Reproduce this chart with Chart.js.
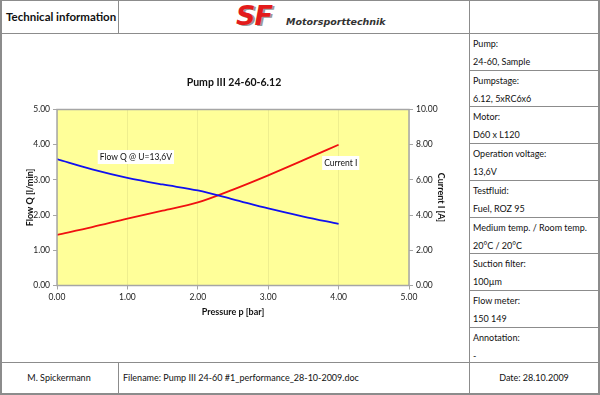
<!DOCTYPE html>
<html>
<head>
<meta charset="utf-8">
<script src="https://cdn.jsdelivr.net/npm/chart.js@4.4.1/dist/chart.umd.min.js"></script>
<style>
  html, body { margin:0; padding:0; background:#fff; }
  body { width:600px; height:395px; position:relative; overflow:hidden; font-family: Lato, "Open Sans", sans-serif; color:#111; }
  .ln { position:absolute; background:#8c8c8c; }
  .txt { position:absolute; font-size:9px; white-space:nowrap; line-height:12px; }
  #chartBox { position:absolute; left:0; top:34px; width:468px; height:327px; }
</style>
</head>
<body>
<!-- outer frame -->
<div class="ln" style="left:0;top:0;width:600px;height:1px;"></div>
<div class="ln" style="left:0;top:393px;width:600px;height:2px;"></div>
<div class="ln" style="left:0;top:0;width:2px;height:395px;"></div>
<div class="ln" style="left:598px;top:0;width:2px;height:395px;"></div>
<!-- header / footer lines -->
<div class="ln" style="left:0;top:33px;width:600px;height:1px;"></div>
<div class="ln" style="left:0;top:362px;width:600px;height:1px;"></div>
<div class="ln" style="left:118px;top:0;width:1px;height:33px;"></div>
<div class="ln" style="left:118px;top:362px;width:1px;height:33px;"></div>
<div class="ln" style="left:469px;top:0;width:1px;height:395px;"></div>

<div class="txt" style="left:6px;top:10px;font-size:11.5px;font-weight:bold;line-height:14px;">Technical information</div>

<!-- logo -->
<div style="position:absolute;left:236px;top:2px;font-size:27px;font-weight:900;font-style:italic;color:#e31b1b;line-height:28px;letter-spacing:-1px;text-shadow:2px 1px 0 #9a9a9a;font-family:'DejaVu Sans', sans-serif;">SF</div>
<div style="position:absolute;left:286px;top:16px;font-size:9.5px;font-weight:bold;font-style:italic;color:#333;line-height:12px;font-family:'DejaVu Sans', sans-serif;">Motorsporttechnik</div>

<div id="side"></div>

<div class="txt" style="left:0;width:118px;text-align:center;top:372px;">M. Spickermann</div>
<div class="txt" style="left:123px;top:372px;">Filename: Pump III 24-60 #1_performance_28-10-2009.doc</div>
<div class="txt" style="left:470px;width:128px;text-align:center;top:372px;">Date: 28.10.2009</div>

<div id="chartBox"><canvas id="c" width="468" height="327"></canvas></div>

<script>
// ---- data ----
const pressure = [0.0, 0.5, 1.0, 1.5, 2.0, 2.5, 3.0, 3.5, 4.0];
const flowQ    = [3.59, 3.30, 3.06, 2.87, 2.70, 2.45, 2.19, 1.96, 1.75];
const currentI = [2.88, 3.32, 3.80, 4.25, 4.72, 5.45, 6.26, 7.12, 8.00];
const xTicks = [0, 1, 2, 3, 4, 5];
const chartTitle = "Pump III 24-60-6.12";
const flowLabel = "Flow Q @ U=13,6V";
const currentLabel = "Current I";
const sideLabels = ["Pump:", "Pumpstage:", "Motor:", "Operation voltage:", "Testfluid:", "Medium temp. / Room temp.", "Suction filter:", "Flow meter:", "Annotation:"];
const sideValues = ["24-60, Sample", "6.12, 5xRC6x6", "D60 x L120", "13,6V", "Fuel, ROZ 95", "20°C / 20°C", "100µm", "150 149", "-"];

// ---- side table ----
(function(){
  const side = document.getElementById('side');
  const top0 = 33, rowH = 36.7;
  sideLabels.forEach((lab, i) => {
    const t = top0 + i * rowH;
    if (i > 0) {
      const l = document.createElement('div');
      l.className = 'ln';
      l.style.cssText = `left:470px;top:${Math.round(t)}px;width:130px;height:1px;`;
      side.appendChild(l);
    }
    const a = document.createElement('div');
    a.className = 'txt';
    a.style.cssText = `left:473px;top:${Math.round(t + 5)}px;`;
    a.textContent = lab;
    side.appendChild(a);
    const b = document.createElement('div');
    b.className = 'txt';
    b.style.cssText = `left:473px;top:${Math.round(t + 23)}px;`;
    b.textContent = sideValues[i];
    side.appendChild(b);
  });
})();

const FONT = "Lato, 'Open Sans', sans-serif";

const areaPlugin = {
  id: 'area',
  beforeDraw(chart) {
    const {ctx, chartArea: a} = chart;
    ctx.save();
    ctx.fillStyle = '#ffff99';
    ctx.fillRect(a.left, a.top, a.right - a.left, a.bottom - a.top);
    ctx.restore();
  },
  afterDatasetsDraw(chart) {
    const {ctx, chartArea: a} = chart;
    ctx.save();
    ctx.strokeStyle = '#a6a6a6';
    ctx.lineWidth = 1.5;
    ctx.strokeRect(a.left, a.top, a.right - a.left, a.bottom - a.top);
    ctx.restore();
  }
};

const labelPlugin = {
  id: 'seriesLabels',
  afterDatasetsDraw(chart, args, opts) {
    const {ctx} = chart;
    ctx.save();
    ctx.font = `8.5px ${FONT}`;
    ctx.textAlign = 'center';
    ctx.textBaseline = 'middle';
    opts.items.forEach(it => {
      const x = chart.scales.x.getPixelForValue(it.x);
      const y = chart.scales[it.axis].getPixelForValue(it.y);
      const w = ctx.measureText(it.text).width + 4;
      ctx.fillStyle = '#ffffff';
      ctx.fillRect(x - w / 2, y - 7, w, 14);
      ctx.fillStyle = '#111';
      ctx.fillText(it.text, x, y);
    });
    ctx.restore();
  }
};

const tickFont = { family: FONT, size: 8.5 };
const titleFont = { family: FONT, size: 9, weight: 'bold' };

new Chart(document.getElementById('c'), {
  type: 'line',
  data: {
    datasets: [
      {
        label: flowLabel,
        data: pressure.map((p, i) => ({x: p, y: flowQ[i]})),
        borderColor: '#1010f0',
        borderWidth: 1.8,
        pointRadius: 0,
        cubicInterpolationMode: 'monotone',
        yAxisID: 'y'
      },
      {
        label: currentLabel,
        data: pressure.map((p, i) => ({x: p, y: currentI[i]})),
        borderColor: '#f01010',
        borderWidth: 1.8,
        pointRadius: 0,
        cubicInterpolationMode: 'monotone',
        yAxisID: 'y1'
      }
    ]
  },
  options: {
    responsive: false,
    animation: false,
    devicePixelRatio: 1,
    layout: { padding: 0 },
    plugins: {
      legend: { display: false },
      tooltip: { enabled: false },
      title: {
        display: true,
        text: chartTitle,
        color: '#111',
        font: { family: FONT, size: 10.5, weight: 'bold' },
        padding: { top: 42, bottom: 20.9 }
      },
      seriesLabels: {
        items: [
          { text: flowLabel, x: 1.12, y: 3.65, axis: 'y' },
          { text: currentLabel, x: 4.03, y: 6.96, axis: 'y1' }
        ]
      }
    },
    scales: {
      x: {
        type: 'linear',
        min: 0, max: 5,
        afterBuildTicks: s => { s.ticks = xTicks.map(v => ({value: v})); },
        afterFit: s => { s.height = 75.5; },
        border: { display: false },
        grid: { color: 'rgba(200,200,120,0.3)', tickColor: '#a6a6a6', tickLength: 4, lineWidth: 1 },
        ticks: { font: tickFont, color: '#222', padding: 3, maxRotation: 0, callback: v => Number(v).toFixed(2) },
        title: { display: true, text: 'Pressure p [bar]', font: titleFont, color: '#111', padding: { top: 0, bottom: 43.6 } }
      },
      y: {
        position: 'left',
        min: 0, max: 5,
        afterFit: s => { s.width = 57; },
        border: { display: false },
        grid: { drawOnChartArea: false, tickColor: '#a6a6a6', tickLength: 4 },
        ticks: { stepSize: 1, font: tickFont, color: '#222', padding: 3, callback: v => Number(v).toFixed(2) },
        title: { display: true, text: 'Flow Q [l/min]', font: titleFont, color: '#111', padding: { top: 24.6, bottom: 0 } }
      },
      y1: {
        position: 'right',
        min: 0, max: 10,
        afterFit: s => { s.width = 59; },
        border: { display: false },
        grid: { drawOnChartArea: false, tickColor: '#a6a6a6', tickLength: 4 },
        ticks: { stepSize: 2, font: tickFont, color: '#222', padding: 3, callback: v => Number(v).toFixed(2) },
        title: { display: true, text: 'Current I [A]', font: titleFont, color: '#111', padding: { top: 21.6, bottom: 0 } }
      }
    }
  },
  plugins: [areaPlugin, labelPlugin]
});
</script>
</body>
</html>
